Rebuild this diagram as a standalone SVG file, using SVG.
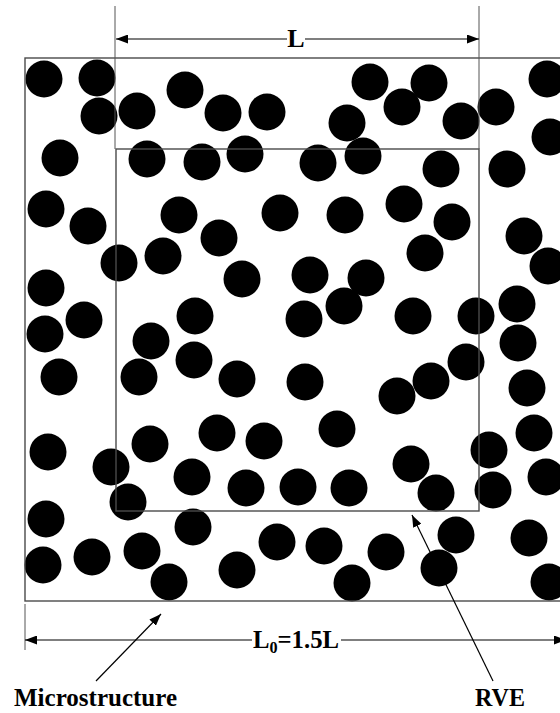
<svg xmlns="http://www.w3.org/2000/svg" width="560" height="713" viewBox="0 0 560 713">
<style>
.box{fill:none;stroke:#4a4a4a;stroke-width:1.4}
.p{fill:#000}
.ln{stroke:#000;stroke-width:1.2;fill:none}
.ext{stroke:#555;stroke-width:1;fill:none}
.lbl{font-family:"Liberation Serif","Times New Roman",serif;font-weight:bold;font-size:26px;fill:#000}
</style>
<defs>
<marker id="ah" viewBox="0 0 12 9" refX="12" refY="4.5" markerWidth="12" markerHeight="9" markerUnits="userSpaceOnUse" orient="auto-start-reverse">
<path d="M0,0 L12,4.5 L0,9 Z" fill="#000"/>
</marker>
</defs>
<rect width="560" height="713" fill="#fff"/>
<g id="particles">
<circle class="p" r="18.5" cx="44" cy="79"/><circle class="p" r="18.5" cx="97" cy="78"/><circle class="p" r="18.5" cx="99" cy="116"/><circle class="p" r="18.5" cx="137" cy="111"/><circle class="p" r="18.5" cx="185" cy="90"/><circle class="p" r="18.5" cx="223" cy="113"/><circle class="p" r="18.5" cx="267" cy="112"/><circle class="p" r="18.5" cx="347" cy="123"/><circle class="p" r="18.5" cx="370" cy="82"/><circle class="p" r="18.5" cx="402" cy="107"/><circle class="p" r="18.5" cx="429" cy="83"/><circle class="p" r="18.5" cx="461" cy="121"/><circle class="p" r="18.5" cx="496" cy="107"/><circle class="p" r="18.5" cx="547" cy="79"/><circle class="p" r="18.5" cx="550" cy="137"/>
<circle class="p" r="18.5" cx="60" cy="158"/><circle class="p" r="18.5" cx="147" cy="159"/><circle class="p" r="18.5" cx="202" cy="162"/><circle class="p" r="18.5" cx="245" cy="154"/><circle class="p" r="18.5" cx="318" cy="163"/><circle class="p" r="18.5" cx="363" cy="156"/><circle class="p" r="18.5" cx="441" cy="169"/><circle class="p" r="18.5" cx="507" cy="169"/>
<circle class="p" r="18.5" cx="46" cy="209"/><circle class="p" r="18.5" cx="88" cy="226"/><circle class="p" r="18.5" cx="179" cy="215"/><circle class="p" r="18.5" cx="280" cy="213"/><circle class="p" r="18.5" cx="345" cy="215"/><circle class="p" r="18.5" cx="404" cy="204"/><circle class="p" r="18.5" cx="452" cy="222"/><circle class="p" r="18.5" cx="524" cy="236"/><circle class="p" r="18.5" cx="219" cy="238"/>
<circle class="p" r="18.5" cx="119" cy="263"/><circle class="p" r="18.5" cx="163" cy="256"/><circle class="p" r="18.5" cx="425" cy="253"/><circle class="p" r="18.5" cx="548" cy="266"/><circle class="p" r="18.5" cx="242" cy="279"/><circle class="p" r="18.5" cx="310" cy="275"/><circle class="p" r="18.5" cx="366" cy="278"/>
<circle class="p" r="18.5" cx="46" cy="288"/><circle class="p" r="18.5" cx="84" cy="320"/><circle class="p" r="18.5" cx="45" cy="334"/><circle class="p" r="18.5" cx="151" cy="341"/><circle class="p" r="18.5" cx="195" cy="316"/><circle class="p" r="18.5" cx="194" cy="360"/><circle class="p" r="18.5" cx="304" cy="319"/><circle class="p" r="18.5" cx="344" cy="306"/><circle class="p" r="18.5" cx="413" cy="316"/><circle class="p" r="18.5" cx="476" cy="316"/><circle class="p" r="18.5" cx="517" cy="304"/><circle class="p" r="18.5" cx="518" cy="343"/><circle class="p" r="18.5" cx="466" cy="362"/>
<circle class="p" r="18.5" cx="59" cy="377"/><circle class="p" r="18.5" cx="139" cy="377"/><circle class="p" r="18.5" cx="237" cy="379"/><circle class="p" r="18.5" cx="305" cy="382"/><circle class="p" r="18.5" cx="431" cy="381"/><circle class="p" r="18.5" cx="397" cy="396"/><circle class="p" r="18.5" cx="527" cy="388"/>
<circle class="p" r="18.5" cx="48" cy="452"/><circle class="p" r="18.5" cx="111" cy="467"/><circle class="p" r="18.5" cx="150" cy="444"/><circle class="p" r="18.5" cx="217" cy="433"/><circle class="p" r="18.5" cx="264" cy="441"/><circle class="p" r="18.5" cx="337" cy="429"/><circle class="p" r="18.5" cx="411" cy="464"/><circle class="p" r="18.5" cx="489" cy="450"/><circle class="p" r="18.5" cx="534" cy="433"/>
<circle class="p" r="18.5" cx="128" cy="502"/><circle class="p" r="18.5" cx="192" cy="477"/><circle class="p" r="18.5" cx="246" cy="488"/><circle class="p" r="18.5" cx="298" cy="487"/><circle class="p" r="18.5" cx="349" cy="488"/><circle class="p" r="18.5" cx="436" cy="493"/><circle class="p" r="18.5" cx="493" cy="490"/><circle class="p" r="18.5" cx="546" cy="477"/>
<circle class="p" r="18.5" cx="46" cy="519"/><circle class="p" r="18.5" cx="193" cy="527"/><circle class="p" r="18.5" cx="277" cy="542"/><circle class="p" r="18.5" cx="324" cy="546"/><circle class="p" r="18.5" cx="456" cy="535"/><circle class="p" r="18.5" cx="529" cy="538"/>
<circle class="p" r="18.5" cx="43" cy="565"/><circle class="p" r="18.5" cx="92" cy="557"/><circle class="p" r="18.5" cx="142" cy="551"/><circle class="p" r="18.5" cx="169" cy="582"/><circle class="p" r="18.5" cx="237" cy="570"/><circle class="p" r="18.5" cx="352" cy="583"/><circle class="p" r="18.5" cx="386" cy="552"/><circle class="p" r="18.5" cx="439" cy="568"/><circle class="p" r="18.5" cx="549" cy="582"/>
</g>
<g id="microstructure"><rect class="box" x="25" y="58" width="560" height="543"/></g>
<g id="rve"><rect class="box" x="116" y="149" width="363" height="362" stroke-width="1.2"/></g>
<g id="connectors">
<line class="ext" x1="115" y1="6" x2="115" y2="149"/>
<line class="ext" x1="479" y1="6" x2="479" y2="149"/>
<line class="ext" x1="25" y1="604" x2="25" y2="650"/>
<line class="ln" x1="287" y1="39" x2="116" y2="39" marker-end="url(#ah)"/>
<line class="ln" x1="305" y1="39" x2="479" y2="39" marker-end="url(#ah)"/>
<line class="ln" x1="252" y1="640" x2="25" y2="640" marker-end="url(#ah)"/>
<line class="ln" x1="341" y1="640" x2="566" y2="640" marker-end="url(#ah)"/>
<line class="ln" x1="96" y1="681" x2="161" y2="614" marker-end="url(#ah)"/>
<line class="ln" x1="493" y1="681" x2="412" y2="515" marker-end="url(#ah)"/>
</g>
<g id="labels">
<text class="lbl" x="296" y="47" text-anchor="middle">L</text>
<text class="lbl" x="296" y="648" text-anchor="middle" textLength="86" lengthAdjust="spacingAndGlyphs">L<tspan font-size="17" dy="5">0</tspan><tspan dy="-5">=1.5L</tspan></text>
<text class="lbl" x="14" y="706" textLength="163" lengthAdjust="spacingAndGlyphs">Microstructure</text>
<text class="lbl" x="475" y="706" textLength="50" lengthAdjust="spacingAndGlyphs">RVE</text>
</g>
</svg>
